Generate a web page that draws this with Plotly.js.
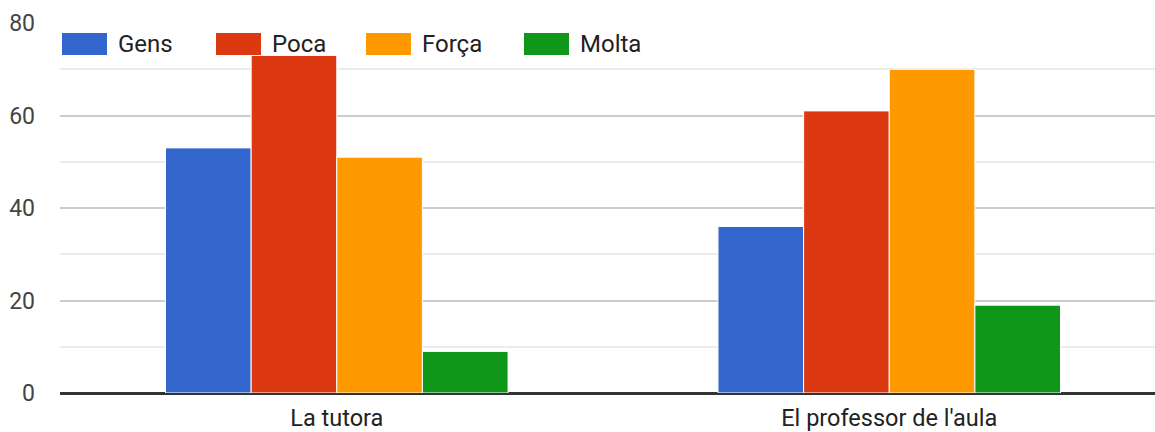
<!DOCTYPE html>
<html>
<head>
<meta charset="utf-8">
<script src="https://cdn.plot.ly/plotly-3.0.1.min.js"></script>
<style>html,body{margin:0;padding:0;background:#fff;}#chart{width:1155px;height:432px;}</style>
</head>
<body>
<div id="chart"></div>
<script>
const categories = ["La tutora", "El professor de l'aula"];
const seriesNames = ["Gens", "Poca", "Força", "Molta"];
const gens = [53, 36];
const poca = [73, 61];
const forca = [51, 70];
const molta = [9, 19];
const colors = ["#3366cc", "#dc3912", "#ff9900", "#109618"];
const yTicks = [0, 20, 40, 60, 80];

const values = [gens, poca, forca, molta];
const traces = values.map((v, i) => ({
  type: 'bar',
  x: categories,
  y: v,
  name: seriesNames[i],
  marker: {color: colors[i], line: {color: '#ffffff', width: 1}},
  showlegend: false,
  hoverinfo: 'x+y+name'
}));

// Custom legend (swatches + labels) in paper coordinates
const W = 1095, H = 370, L = 60, T = 23;
const px = x => (x - L) / W;
const py = y => 1 - (y - T) / H;
const swatchX = [62, 216, 366, 524];
const shapes = [], annotations = [];
seriesNames.forEach((n, i) => {
  shapes.push({type: 'rect', xref: 'paper', yref: 'paper',
    x0: px(swatchX[i]), x1: px(swatchX[i] + 45), y0: py(55), y1: py(33),
    fillcolor: colors[i], line: {width: 0}, layer: 'above'});
  annotations.push({xref: 'paper', yref: 'paper', x: px(swatchX[i] + 54), y: py(44),
    xanchor: 'left', yanchor: 'middle', text: n, showarrow: false,
    font: {family: 'Roboto, Arial, sans-serif', size: 24, color: '#222'}});
});

const layout = {
  width: 1155, height: 432,
  margin: {l: L, r: 0, t: T, b: 39},
  paper_bgcolor: '#fff', plot_bgcolor: '#fff',
  barmode: 'group', bargap: 0.38, bargroupgap: 0,
  font: {family: 'Roboto, Arial, sans-serif', size: 23, color: '#333'},
  xaxis: {type: 'category', range: [-0.501, 1.481], showgrid: false, ticks: '',
    showline: false, zeroline: false, tickfont: {size: 23.5, color: '#222'}, ticklabelstandoff: 8},
  yaxis: {range: [0, 80], tickvals: yTicks, showgrid: true, gridcolor: '#cccccc', gridwidth: 2,
    minor: {dtick: 10, showgrid: true, gridcolor: '#ebebeb', gridwidth: 2, ticks: ''},
    zeroline: true, zerolinecolor: '#333333', zerolinewidth: 3, ticks: '',
    ticklabelstandoff: 24, tickfont: {size: 23, color: '#444'}},
  shapes: shapes,
  annotations: annotations
};
Plotly.newPlot('chart', traces, layout, {displayModeBar: false});
</script>
</body>
</html>
